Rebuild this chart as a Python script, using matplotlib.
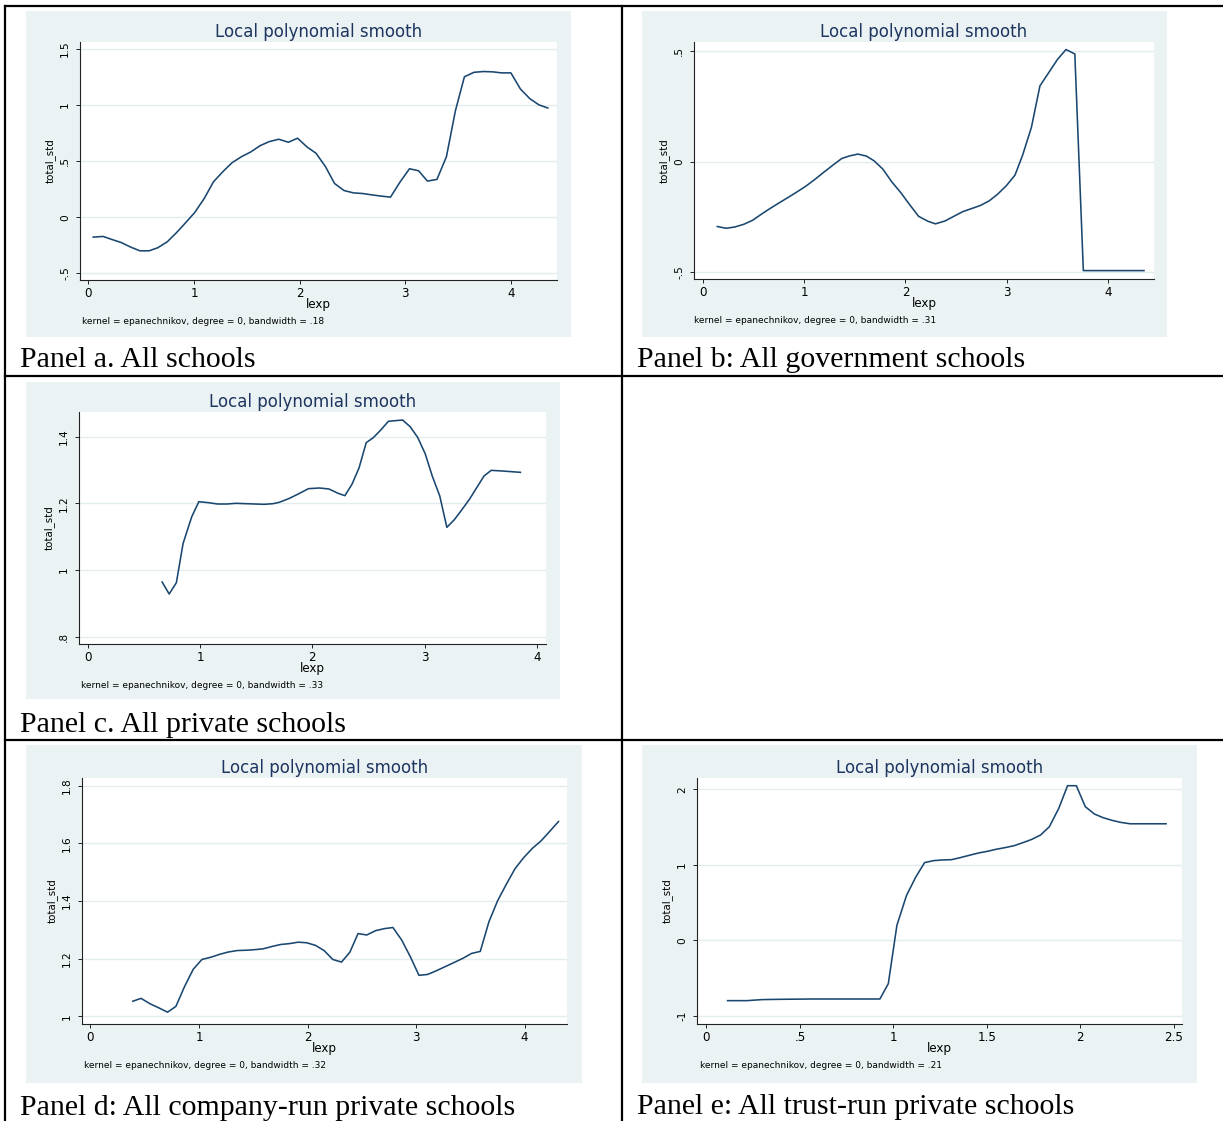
import matplotlib
matplotlib.use('Agg')
import matplotlib.pyplot as plt
from matplotlib.patches import Rectangle
from matplotlib.lines import Line2D

W, H = 1223, 1121
NAVY = '#1a476f'
TITLE = '#1e3560'
BG = '#eaf2f3'
GRID = '#e3edef'
SANS = 'DejaVu Sans'
SERIF = 'Liberation Serif'

# --- data ---
lexp_a = [0.045, 0.139, 0.225, 0.31, 0.40, 0.487, 0.574, 0.656, 0.746, 0.832, 0.918, 1.008, 1.098,
          1.184, 1.275, 1.36, 1.45, 1.536, 1.626, 1.713, 1.803, 1.893, 1.98, 2.07, 2.155, 2.245,
          2.33, 2.42, 2.51, 2.6, 2.685, 2.775, 2.86, 2.95, 3.04, 3.126, 3.21, 3.30, 3.39, 3.475,
          3.56, 3.65, 3.74, 3.83, 3.91, 4.00, 4.09, 4.18, 4.266, 4.35]
std_a = [-0.178, -0.172, -0.20, -0.226, -0.267, -0.30, -0.30, -0.273, -0.22, -0.14, -0.052, 0.043,
         0.169, 0.315, 0.407, 0.485, 0.539, 0.58, 0.637, 0.673, 0.694, 0.667, 0.703, 0.625, 0.569,
         0.449, 0.30, 0.237, 0.216, 0.21, 0.198, 0.187, 0.178, 0.312, 0.431, 0.413, 0.321, 0.336,
         0.539, 0.948, 1.25, 1.29, 1.297, 1.294, 1.285, 1.285, 1.142, 1.055, 1.0, 0.972]

lexp_b = [0.144, 0.231, 0.318, 0.405, 0.492, 0.583, 0.67, 0.758, 0.845, 0.936, 1.023, 1.11, 1.197,
          1.284, 1.371, 1.443, 1.53, 1.614, 1.689, 1.777, 1.864, 1.955, 2.042, 2.129, 2.22, 2.295,
          2.39, 2.477, 2.564, 2.652, 2.739, 2.826, 2.909, 2.996, 3.08, 3.155, 3.242, 3.326, 3.413,
          3.5, 3.583, 3.67, 3.754, 3.9, 4.1, 4.352]
std_b = [-0.293, -0.301, -0.295, -0.283, -0.265, -0.236, -0.21, -0.185, -0.161, -0.135, -0.109,
         -0.079, -0.047, -0.016, 0.014, 0.025, 0.034, 0.025, 0.004, -0.034, -0.091, -0.141, -0.195,
         -0.247, -0.269, -0.281, -0.268, -0.247, -0.226, -0.212, -0.198, -0.177, -0.147, -0.108,
         -0.061, 0.029, 0.155, 0.342, 0.402, 0.462, 0.506, 0.486, -0.492, -0.492, -0.492, -0.492]

lexp_c = [0.662, 0.725, 0.789, 0.849, 0.926, 0.989, 1.074, 1.155, 1.239, 1.32, 1.405, 1.486, 1.57,
          1.651, 1.704, 1.789, 1.88, 1.965, 2.063, 2.148, 2.229, 2.289, 2.352, 2.415, 2.479, 2.542,
          2.609, 2.676, 2.739, 2.803, 2.87, 2.937, 3.004, 3.067, 3.134, 3.197, 3.264, 3.331, 3.398,
          3.461, 3.528, 3.592, 3.69, 3.852]
std_c = [0.964, 0.928, 0.962, 1.08, 1.16, 1.205, 1.202, 1.198, 1.198, 1.2, 1.199, 1.198, 1.197,
         1.199, 1.203, 1.214, 1.229, 1.244, 1.246, 1.243, 1.23, 1.223, 1.257, 1.306, 1.382, 1.397,
         1.42, 1.446, 1.448, 1.45, 1.43, 1.398, 1.349, 1.282, 1.222, 1.128, 1.151, 1.181, 1.212,
         1.246, 1.282, 1.299, 1.297, 1.293]

lexp_d = [0.39, 0.466, 0.55, 0.63, 0.71, 0.787, 0.867, 0.947, 1.027, 1.111, 1.191, 1.271, 1.352,
          1.432, 1.512, 1.592, 1.672, 1.752, 1.832, 1.913, 1.993, 2.073, 2.153, 2.233, 2.313, 2.39,
          2.466, 2.546, 2.627, 2.707, 2.787, 2.867, 2.947, 3.027, 3.107, 3.188, 3.268, 3.348, 3.432,
          3.512, 3.592, 3.672, 3.752, 3.832, 3.912, 3.993, 4.073, 4.153, 4.233, 4.313]
std_d = [1.052, 1.062, 1.043, 1.029, 1.014, 1.034, 1.103, 1.163, 1.197, 1.205, 1.215, 1.223, 1.228,
         1.229, 1.231, 1.234, 1.242, 1.249, 1.252, 1.257, 1.255, 1.246, 1.228, 1.197, 1.188, 1.222,
         1.287, 1.282, 1.297, 1.304, 1.308, 1.265, 1.207, 1.142, 1.145, 1.158, 1.172, 1.186, 1.201,
         1.218, 1.225, 1.328, 1.401, 1.458, 1.512, 1.551, 1.583, 1.609, 1.642, 1.676]

lexp_e = [0.113, 0.216, 0.298, 0.401, 0.566, 0.772, 0.928, 0.973, 1.019, 1.07, 1.119, 1.167, 1.214,
          1.261, 1.311, 1.358, 1.405, 1.455, 1.502, 1.549, 1.597, 1.646, 1.693, 1.741, 1.788, 1.835,
          1.885, 1.932, 1.979, 2.027, 2.076, 2.123, 2.171, 2.218, 2.267, 2.315, 2.459]
std_e = [-0.797, -0.797, -0.783, -0.779, -0.775, -0.775, -0.775, -0.572, 0.2, 0.593, 0.835, 1.03,
         1.056, 1.065, 1.069, 1.096, 1.126, 1.157, 1.179, 1.206, 1.228, 1.254, 1.294, 1.338, 1.396,
         1.506, 1.748, 2.048, 2.048, 1.77, 1.673, 1.624, 1.589, 1.562, 1.544, 1.544, 1.544]

xticks_a = [0, 1, 2, 3, 4]
xlabels_a = ['0', '1', '2', '3', '4']
yticks_a = [-0.5, 0, 0.5, 1, 1.5]
ylabels_a = ['-.5', '0', '.5', '1', '1.5']
yticks_b = [-0.5, 0, 0.5]
ylabels_b = ['-.5', '0', '.5']
yticks_c = [0.8, 1, 1.2, 1.4]
ylabels_c = ['.8', '1', '1.2', '1.4']
yticks_d = [1, 1.2, 1.4, 1.6, 1.8]
ylabels_d = ['1', '1.2', '1.4', '1.6', '1.8']
xticks_e = [0, 0.5, 1, 1.5, 2, 2.5]
xlabels_e = ['0', '.5', '1', '1.5', '2', '2.5']
yticks_e = [-1, 0, 1, 2]
ylabels_e = ['-1', '0', '1', '2']

bandwidths = ['.18', '.31', '.33', '.32', '.21']
captions = ['Panel a. All schools', 'Panel b: All government schools',
            'Panel c. All private schools', 'Panel d: All company-run private schools',
            'Panel e: All trust-run private schools']

# --- layout in pixels: plot box, background box, limits, note x, caption origin ---
panels = [
    dict(x=lexp_a, y=std_a, xt=xticks_a, xl=xlabels_a, yt=yticks_a, yl=ylabels_a,
         plot=(80, 42, 556.7, 280), bg=(26, 11, 570.6, 337), xlim=(-0.08, 4.434), ylim=(-0.56, 1.56),
         note=82.3, cap=(20.5, 367)),
    dict(x=lexp_b, y=std_b, xt=xticks_a, xl=xlabels_a, yt=yticks_b, yl=ylabels_b,
         plot=(694.3, 42, 1153.5, 279), bg=(642, 11, 1166.5, 337), xlim=(-0.083, 4.446), ylim=(-0.53, 0.54),
         note=694, cap=(637.3, 367)),
    dict(x=lexp_c, y=std_c, xt=xticks_a, xl=xlabels_a, yt=yticks_c, yl=ylabels_c,
         plot=(79.1, 412, 545.7, 644), bg=(26, 382, 559.5, 699), xlim=(-0.077, 4.077), ylim=(0.778, 1.474),
         note=81.1, cap=(20.5, 731.5)),
    dict(x=lexp_d, y=std_d, xt=xticks_a, xl=xlabels_a, yt=yticks_d, yl=ylabels_d,
         plot=(81.9, 778, 567.4, 1024), bg=(26, 745, 582.4, 1083), xlim=(-0.079, 4.395), ylim=(0.973, 1.827),
         note=83.8, cap=(20.5, 1115)),
    dict(x=lexp_e, y=std_e, xt=xticks_e, xl=xlabels_e, yt=yticks_e, yl=ylabels_e,
         plot=(697.3, 778, 1182.3, 1024), bg=(642, 745, 1196.9, 1083), xlim=(-0.049, 2.546), ylim=(-1.106, 2.15),
         note=699.6, cap=(637.3, 1114)),
]


def fx(px):
    return px / W


def fy(py):
    return 1 - py / H


fig = plt.figure(figsize=(W / 100, H / 100), dpi=100)
fig.patch.set_facecolor('white')

for i, p in enumerate(panels):
    bx0, by0, bx1, by1 = p['bg']
    fig.add_artist(Rectangle((fx(bx0), fy(by1)), (bx1 - bx0) / W, (by1 - by0) / H,
                             transform=fig.transFigure, facecolor=BG, edgecolor='none', zorder=0))
    x0, y0, x1, y1 = p['plot']
    ax = fig.add_axes([fx(x0), fy(y1), (x1 - x0) / W, (y1 - y0) / H])
    ax.set_facecolor('white')
    ax.plot(p['x'], p['y'], color=NAVY, lw=1.15)
    ax.set_xlim(*p['xlim'])
    ax.set_ylim(*p['ylim'])
    ax.set_xticks(p['xt'])
    ax.set_xticklabels(p['xl'], fontfamily=SANS, fontsize=8.6)
    ax.set_yticks(p['yt'])
    ax.set_yticklabels(p['yl'], fontfamily=SANS, fontsize=7.6, rotation=90, va='center')
    ax.tick_params(axis='both', length=3, width=0.7, color='#222222')
    ax.tick_params(axis='x', pad=1.8)
    ax.tick_params(axis='y', pad=4.2)
    for s in ['top', 'right']:
        ax.spines[s].set_visible(False)
    for s in ['left', 'bottom']:
        ax.spines[s].set_linewidth(0.8)
        ax.spines[s].set_color('#222222')
    ax.grid(axis='y', color=GRID, lw=1.0)
    ax.set_axisbelow(True)

    cx = (x0 + x1) / 2
    fig.text(fx(cx), fy(y0 - 10.3), 'Local polynomial smooth', ha='center', va='center',
             fontfamily=SANS, fontsize=12, color=TITLE)
    # axis title sits just under the tick labels, as in the Stata export
    fig.text(fx(cx), fy(y1 + 24.8), 'lexp', ha='center', va='center', fontfamily=SANS, fontsize=8.6)
    fig.text(fx(x0 - 30), fy((y0 + y1) / 2), 'total_std', ha='center', va='center', rotation=90,
             fontfamily=SANS, fontsize=7.4)
    fig.text(fx(p['note']), fy(y1 + 41.5),
             'kernel = epanechnikov, degree = 0, bandwidth = %s' % bandwidths[i],
             ha='left', va='center', fontfamily=SANS, fontsize=6.5)
    fig.text(fx(p['cap'][0]), fy(p['cap'][1]), captions[i], ha='left', va='baseline',
             fontfamily=SERIF, fontsize=21.5)

# table rules
for (xa, ya, xb, yb) in [(4.5, 5.5, 1223, 5.5), (4.5, 375.7, 1223, 375.7), (4.5, 740, 1223, 740),
                         (4.7, 5.5, 4.7, 1121), (621.7, 5.5, 621.7, 1121)]:
    fig.add_artist(Line2D([fx(xa), fx(xb)], [fy(ya), fy(yb)], transform=fig.transFigure,
                          color='black', lw=1.6))

fig.savefig('out.png', dpi=100, facecolor='white')
